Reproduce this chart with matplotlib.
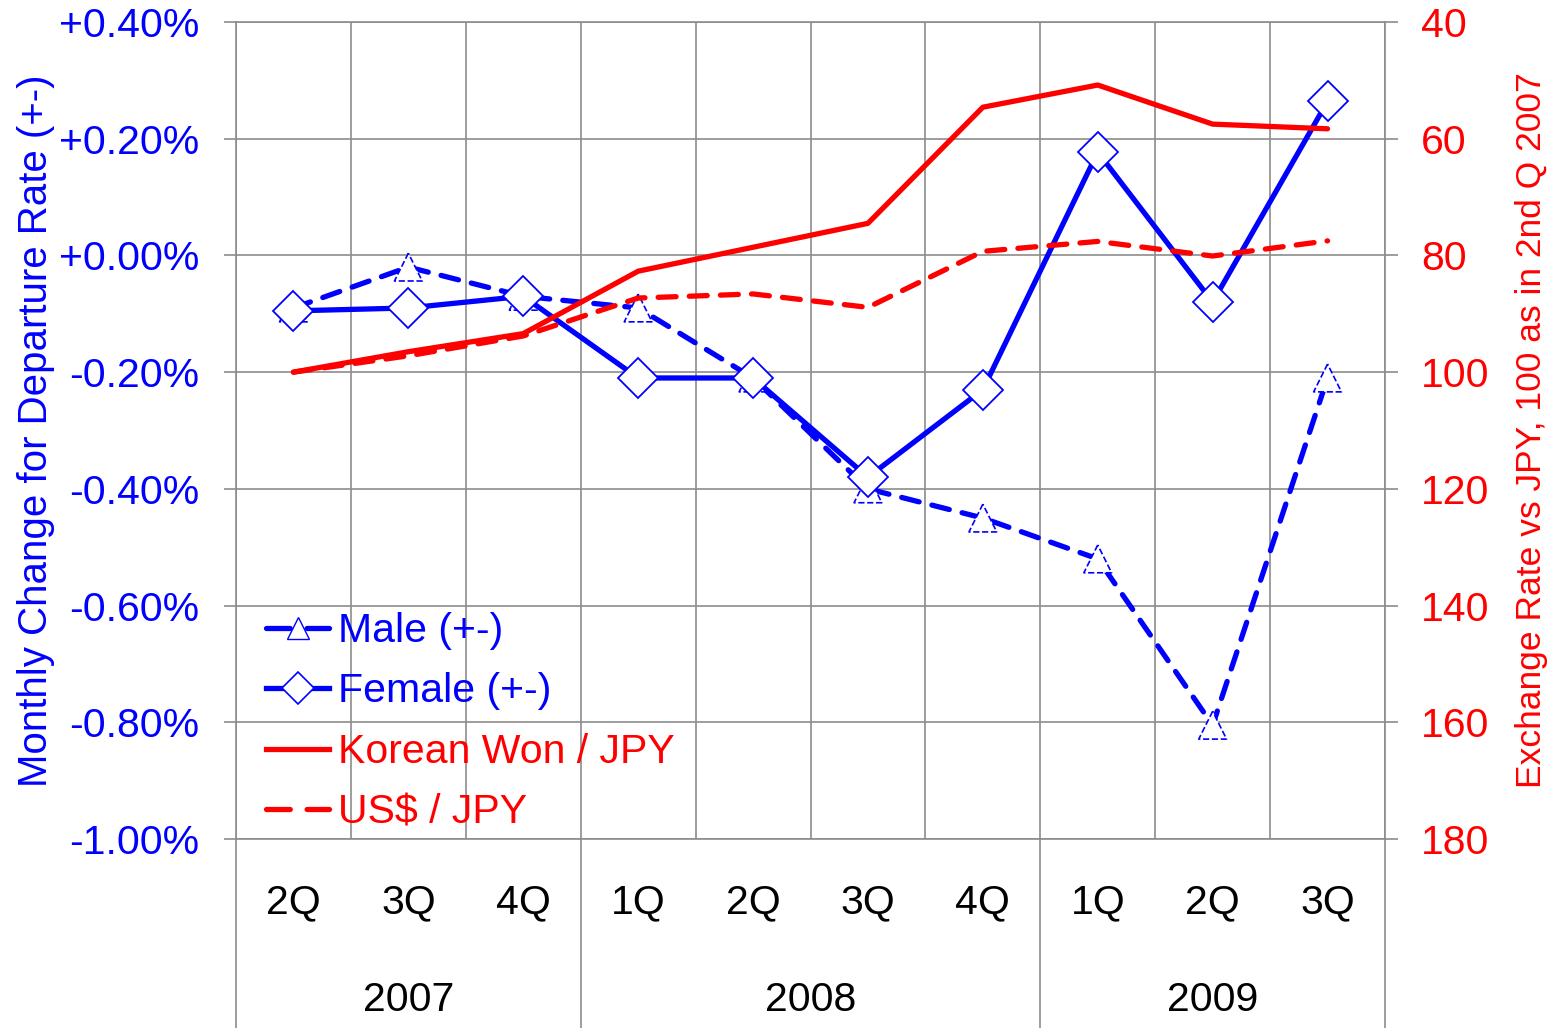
import numpy as np
import matplotlib
matplotlib.use("Agg")
import matplotlib.pyplot as plt
import matplotlib.transforms as mtransforms
from matplotlib.lines import Line2D
from matplotlib.ticker import FuncFormatter

plt.rcParams['font.family'] = ['Liberation Sans', 'DejaVu Sans']

quarters = ["2Q", "3Q", "4Q", "1Q", "2Q", "3Q", "4Q", "1Q", "2Q", "3Q"]
years = ["2007", "2008", "2009"]
year_spans = [(0, 2), (3, 6), (7, 9)]  # first / last quarter index of each year

male = [-0.09, -0.02, -0.07, -0.09, -0.21, -0.40, -0.45, -0.52, -0.805, -0.21]
female = [-0.095, -0.09, -0.07, -0.21, -0.21, -0.38, -0.23, 0.177, -0.08, 0.264]
won_jpy = [100, 96.5, 93.4, 82.7, 78.6, 74.5, 54.6, 50.8, 57.5, 58.3]
usd_jpy = [100, 97.2, 93.8, 87.3, 86.6, 88.9, 79.3, 77.6, 80.1, 77.5]

blue = "#0000FF"
red = "#FF0000"
grey = "#8C8C8C"
fs = 29.5
dash = (0, (3.4, 2.5))

fig = plt.figure(figsize=(15.54, 10.28), dpi=100)
ax = fig.add_axes([236/1554, 1 - 839/1028, 1149/1554, 817/1028])
x = np.arange(len(quarters))

# left axis: departure rate change
ax.plot(x, male, color=blue, lw=3.8, ls=dash, dash_capstyle='round', zorder=3)
ax.scatter(x, male, s=20**2, marker='^', facecolors='white', edgecolors=blue,
           linewidths=1.2, linestyles='--', zorder=4)
ax.plot(x, female, color=blue, lw=3.8, marker='D', ms=20, mfc='white', mec=blue,
        mew=1.3, zorder=5)

ax.set_xlim(-0.5, len(quarters) - 0.5)
ax.set_ylim(-1.0, 0.4)
ax.set_yticks(np.round(np.arange(-1.0, 0.41, 0.2), 2))
ax.yaxis.set_major_formatter(FuncFormatter(lambda v, p: f"{round(v, 2) + 0.0:+.2f}%"))
ax.tick_params(axis='y', colors=blue, labelsize=fs, length=9, width=1.2, pad=17.5)
ax.tick_params(axis='y', which='major', color=grey)
ax.set_xticks(x)
ax.set_xticklabels([])
ax.tick_params(axis='x', which='both', length=0)
ax.set_xticks(np.arange(-0.5, len(quarters), 1), minor=True)
ax.grid(axis='y', which='major', color=grey, lw=1.2)
ax.grid(axis='x', which='minor', color=grey, lw=1.2)
ax.set_axisbelow(True)
for s in ax.spines.values():
    s.set_color(grey)
    s.set_linewidth(1.2)
ax.set_ylabel("Monthly Change for Departure Rate (+-)", color=blue, fontsize=29, labelpad=3)

# category labels below
trans = mtransforms.blended_transform_factory(ax.transData, ax.transAxes)
for i, q in enumerate(quarters):
    ax.text(i, -0.077, q, transform=trans, ha='center', va='center', fontsize=fs)
for yr, (a, b) in zip(years, year_spans):
    ax.text((a + b) / 2, -0.197, yr, transform=trans, ha='center', va='center', fontsize=fs)
for bnd in [-0.5, 2.5, 6.5, 9.5]:
    ax.plot([bnd, bnd], [0, -0.235], transform=trans, color=grey, lw=1.2, clip_on=False)

# right axis: exchange rates
ax2 = ax.twinx()
ax2.plot(x, won_jpy, color=red, lw=3.8, solid_capstyle='round')
ax2.plot(x, usd_jpy, color=red, lw=3.8, ls=dash, dash_capstyle='round')
ax2.set_ylim(180, 40)
ax2.set_yticks(np.arange(40, 181, 20))
ax2.tick_params(axis='y', colors=red, labelsize=fs, length=9, width=1.2, pad=17)
ax2.tick_params(axis='y', color=grey)
for s in ax2.spines.values():
    s.set_visible(False)
ax2.set_ylabel("Exchange Rate vs JPY, 100 as in 2nd Q 2007", color=red, fontsize=25.5, labelpad=18)

handles = [
    Line2D([], [], color=blue, lw=3.8, ls=(0, (4.5, 3.2)), dash_capstyle='round',
           marker='^', ms=16, mfc='white', mec=blue, mew=1.0),
    Line2D([], [], color=blue, lw=3.8, marker='D', ms=16, mfc='white', mec=blue, mew=1.2),
    Line2D([], [], color=red, lw=3.8),
    Line2D([], [], color=red, lw=3.8, ls=(0, (4.5, 3.2)), dash_capstyle='round'),
]
labels = ["Male (+-)", "Female (+-)", "Korean Won / JPY", "US$ / JPY"]
leg = ax2.legend(handles, labels, loc='lower left', bbox_to_anchor=(-0.006, -0.036),
                 frameon=False, fontsize=fs, handlelength=1.55, handletextpad=0.2,
                 labelspacing=0.55, numpoints=1)
for t, c in zip(leg.get_texts(), [blue, blue, red, red]):
    t.set_color(c)

fig.savefig("out.png", dpi=100)
